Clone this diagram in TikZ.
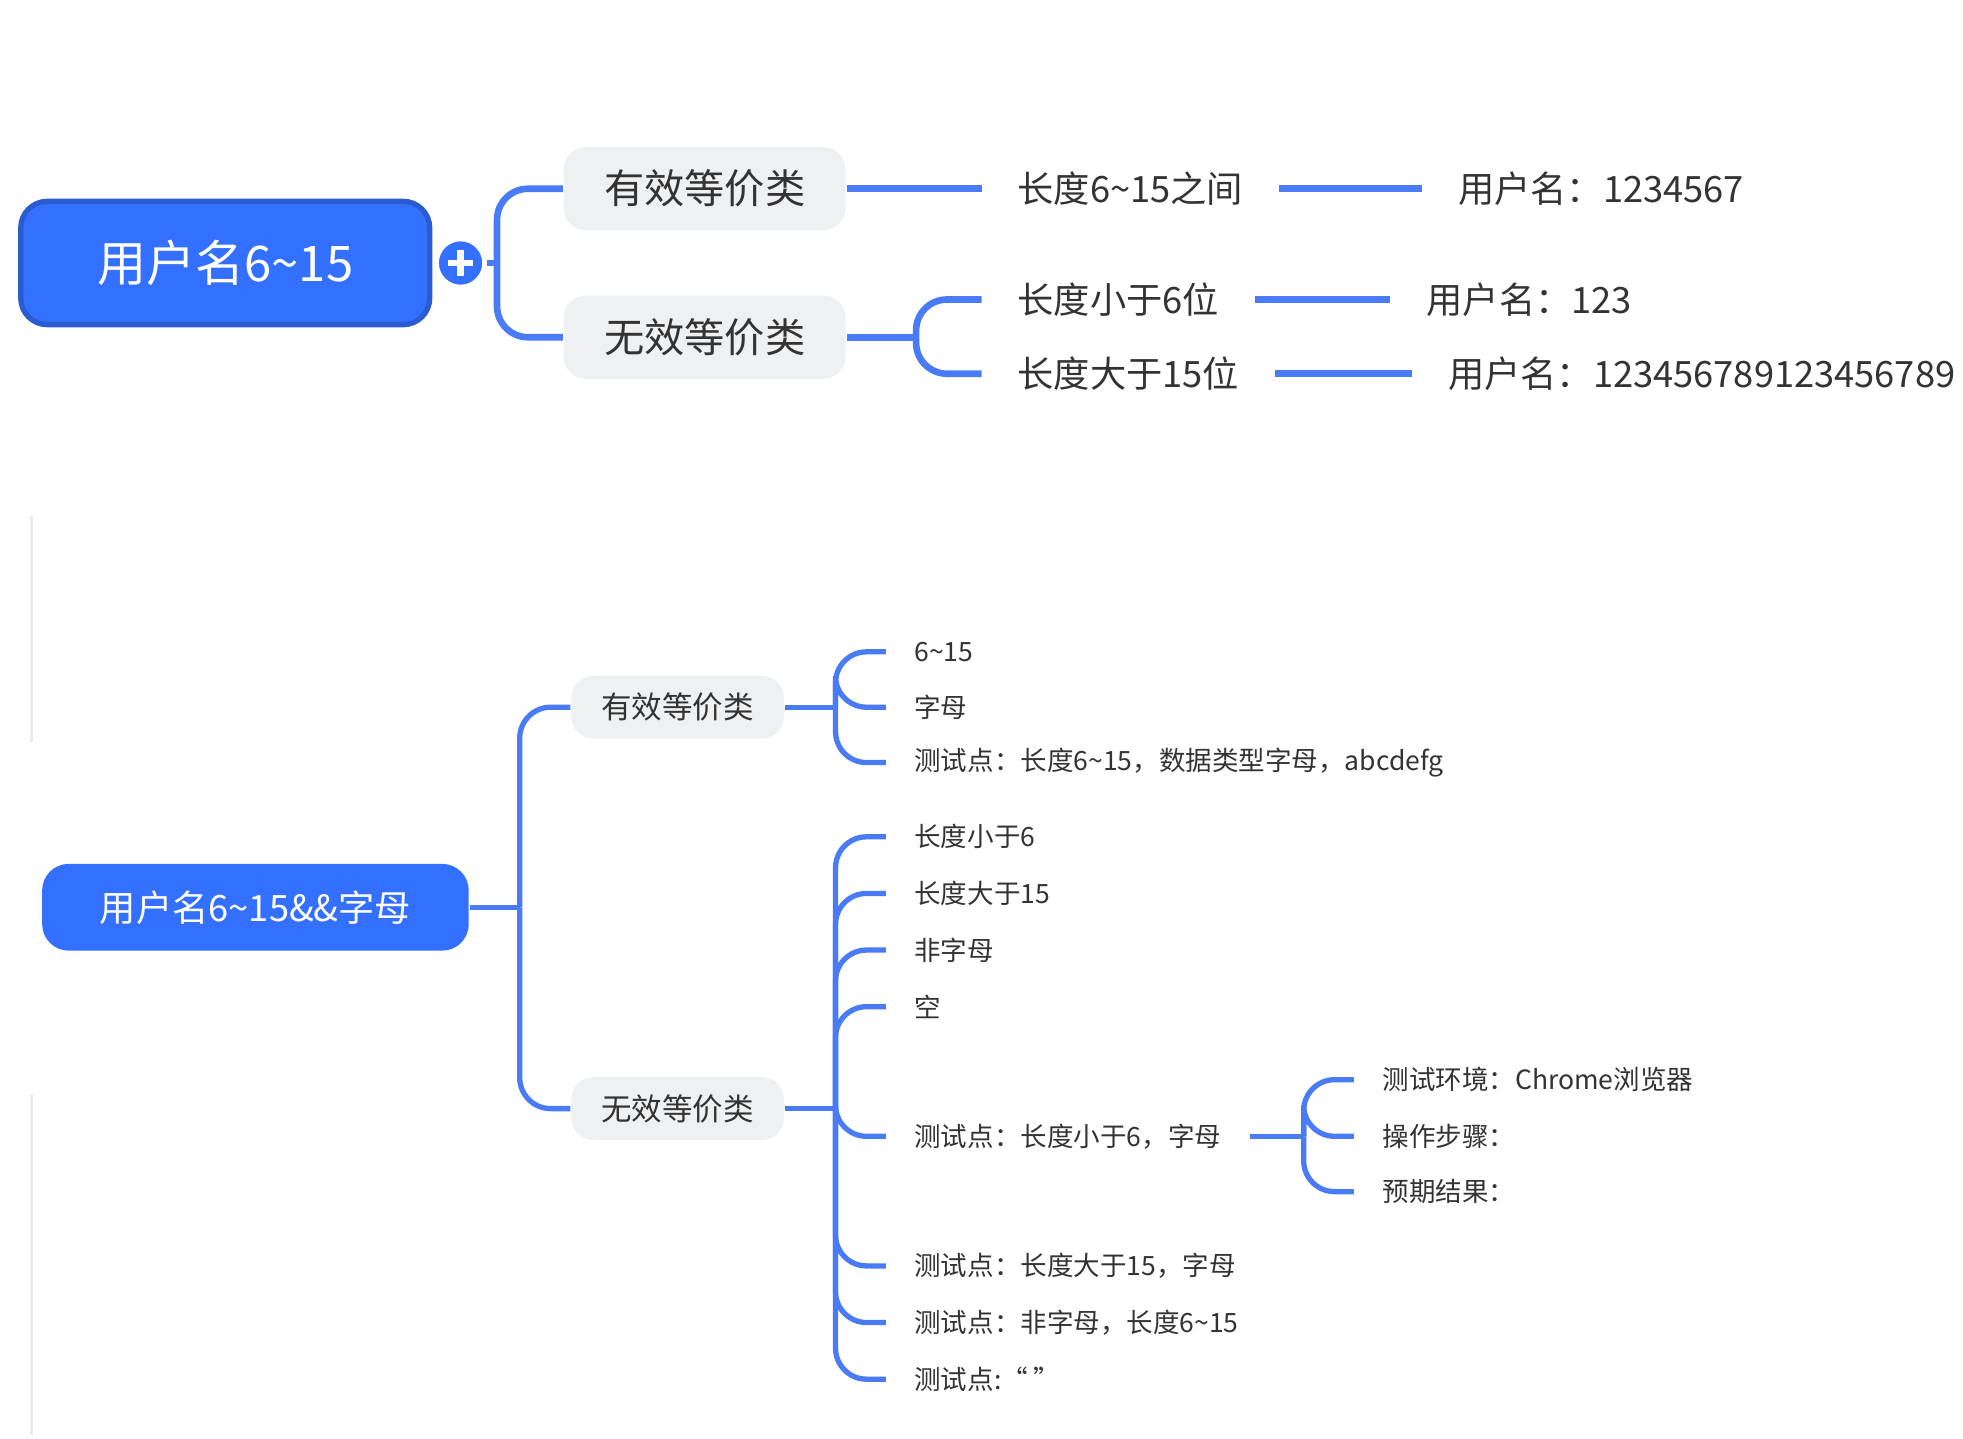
\documentclass[tikz,border=0pt]{standalone}
\usepackage{fontspec}
\setmainfont{Noto Sans CJK SC}
\usetikzlibrary{positioning}
\definecolor{mapblue}{HTML}{3370FF}
\definecolor{mapedge}{HTML}{2A5BD0}
\definecolor{mapline}{HTML}{4A7BF7}
\definecolor{mapgray}{HTML}{EFF0F2}
\definecolor{maptext}{HTML}{333333}
\tikzset{
  rootbox/.style={fill=mapblue, text=white, rounded corners=6pt, minimum height=#1},
  midbox/.style={fill=mapgray, text=maptext, rounded corners=5pt, minimum height=#1},
  leaf/.style={text=maptext, anchor=west, inner xsep=#1, inner ysep=1pt},
  conn/.style={draw=mapline, line width=#1, rounded corners=7pt},
}
\newcommand{\tl}{\textasciitilde}
\begin{document}
\begin{tikzpicture}
\useasboundingbox (0,0) rectangle (15.6,-11.43);
% upper map
\node[rootbox=0.98cm, draw=mapedge, line width=1.2pt, minimum width=3.25cm, font=\fontsize{11.1}{13}\selectfont] (rootA) at (1.79,-2.09) {用户名6\tl15};
\node[circle, fill=mapblue, draw=white, line width=1pt, minimum size=0.38cm, inner sep=0pt] (plusA) at (3.66,-2.09) {};
\draw[white, line width=1.5pt] ([xshift=-0.1cm]plusA.center) -- ([xshift=0.1cm]plusA.center) ([yshift=-0.1cm]plusA.center) -- ([yshift=0.1cm]plusA.center);
\node[midbox=0.66cm, minimum width=2.24cm, font=\fontsize{9.1}{11}\selectfont] (validA) at (5.60,-1.50) {有效等价类};
\node[midbox=0.66cm, minimum width=2.24cm, font=\fontsize{9.1}{11}\selectfont] (invalidA) at (5.60,-2.68) {无效等价类};
\begin{scope}[font=\fontsize{8.2}{10}\selectfont]
\node[leaf=0.28cm] (lenA) at (7.80,-1.50) {长度6\tl15之间};
\node[leaf=0.28cm] (userA) at (11.30,-1.50) {用户名：1234567};
\node[leaf=0.28cm] (shortA) at (7.80,-2.38) {长度小于6位};
\node[leaf=0.28cm] (userB) at (11.05,-2.38) {用户名：123};
\node[leaf=0.28cm] (longA) at (7.80,-2.97) {长度大于15位};
\node[leaf=0.28cm] (userC) at (11.22,-2.97) {用户名：123456789123456789};
\end{scope}
\coordinate (jA) at (3.95,-2.09);
\coordinate (jB) at (7.28,-2.68);
\draw[conn=1.5pt] (plusA.east) -- (jA);
\draw[conn=1.5pt] (jA) |- (validA.west);
\draw[conn=1.5pt] (jA) |- (invalidA.west);
\draw[conn=1.5pt] (validA.east) -- (lenA.west);
\draw[conn=1.5pt] (invalidA.east) -- (jB);
\draw[conn=1.5pt] (jB) |- (shortA.west);
\draw[conn=1.5pt] (jB) |- (longA.west);
\draw[conn=1.5pt] (lenA.east) -- (userA.west);
\draw[conn=1.5pt] (shortA.east) -- (userB.west);
\draw[conn=1.5pt] (longA.east) -- (userC.west);
% lower map
\draw[black!8, line width=0.8pt] (0.25,-4.10) -- (0.25,-5.90) (0.25,-8.70) -- (0.25,-11.40);
\node[rootbox=0.69cm, minimum width=3.39cm, font=\fontsize{8.2}{10}\selectfont] (rootB) at (2.03,-7.21) {用户名6\tl15\&\&字母};
\node[midbox=0.50cm, minimum width=1.69cm, font=\fontsize{6.9}{8}\selectfont] (validB) at (5.385,-5.62) {有效等价类};
\node[midbox=0.50cm, minimum width=1.69cm, font=\fontsize{6.9}{8}\selectfont] (invalidB) at (5.385,-8.81) {无效等价类};
\begin{scope}[font=\fontsize{6}{7}\selectfont]
\node[leaf=0.22cm] (vA) at (7.04,-5.18) {6\tl15};
\node[leaf=0.22cm] (vB) at (7.04,-5.62) {字母};
\node[leaf=0.22cm] (vC) at (7.04,-6.06) {测试点：长度6\tl15，数据类型字母，abcdefg};
\node[leaf=0.22cm] (iA) at (7.04,-6.65) {长度小于6};
\node[leaf=0.22cm] (iB) at (7.04,-7.10) {长度大于15};
\node[leaf=0.22cm] (iC) at (7.04,-7.55) {非字母};
\node[leaf=0.22cm] (iD) at (7.04,-8.00) {空};
\node[leaf=0.22cm] (iE) at (7.04,-9.03) {测试点：长度小于6，字母};
\node[leaf=0.22cm] (iF) at (7.04,-10.06) {测试点：长度大于15，字母};
\node[leaf=0.22cm] (iG) at (7.04,-10.51) {测试点：非字母，长度6\tl15};
\node[leaf=0.22cm] (iH) at (7.04,-10.96) {测试点:“ ”};
\node[leaf=0.22cm] (sA) at (10.76,-8.58) {测试环境：Chrome浏览器};
\node[leaf=0.22cm] (sB) at (10.76,-9.03) {操作步骤：};
\node[leaf=0.22cm] (sC) at (10.76,-9.47) {预期结果：};
\end{scope}
\coordinate (jC) at (4.13,-7.21);
\coordinate (jD) at (6.64,-5.62);
\coordinate (jE) at (6.64,-8.81);
\coordinate (jF) at (10.36,-9.03);
\draw[conn=1.2pt] (rootB.east) -- (jC);
\draw[conn=1.2pt] (jC) |- (validB.west);
\draw[conn=1.2pt] (jC) |- (invalidB.west);
\draw[conn=1.2pt] (validB.east) -- (jD);
\foreach \n in {vA,vB,vC}
  \draw[conn=1.2pt] (jD) |- (\n.west);
\draw[conn=1.2pt] (invalidB.east) -- (jE);
\foreach \n in {iA,iB,iC,iD,iE,iF,iG,iH}
  \draw[conn=1.2pt] (jE) |- (\n.west);
\draw[conn=1.2pt] (iE.east) -- (jF);
\foreach \n in {sA,sB,sC}
  \draw[conn=1.2pt] (jF) |- (\n.west);
\end{tikzpicture}
\end{document}
